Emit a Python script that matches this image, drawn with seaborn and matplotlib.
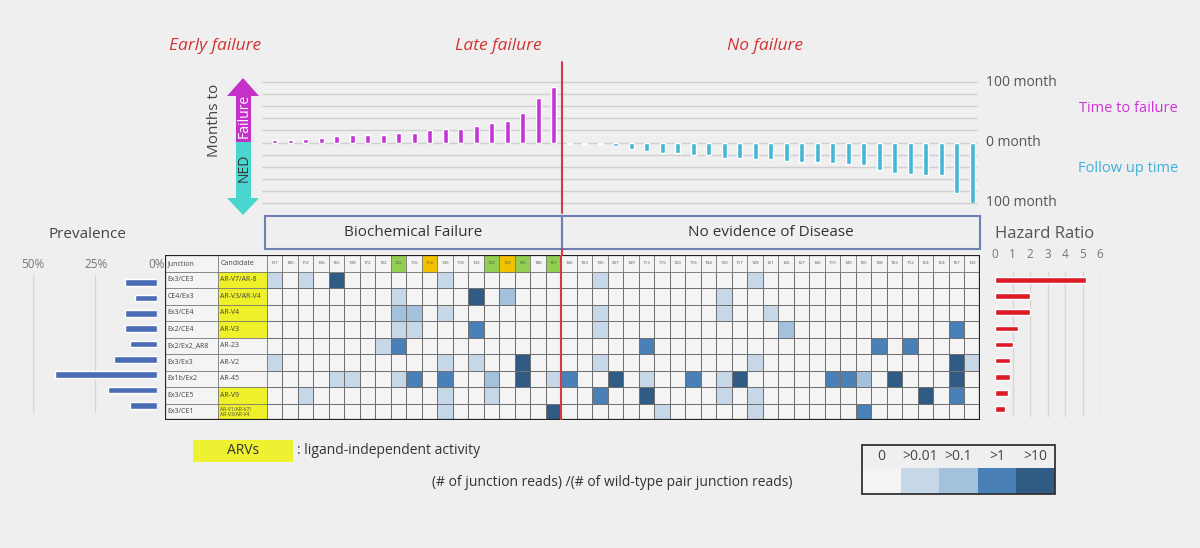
import numpy as np
import pandas as pd
import seaborn as sns
import matplotlib.pyplot as plt
from matplotlib.colors import ListedColormap
from matplotlib.patches import Rectangle, Polygon

sns.set_theme(style='white')
plt.rcParams['font.family'] = ['Open Sans', 'DejaVu Sans']

# months to failure (biochemical failure) and follow up (NED)
fail_months = [4, 4, 6, 8, 11, 12, 12, 12, 15, 15, 21, 23, 23, 27, 33, 36, 48, 73, 92]
ned_months = [3, 3, 3, 5, 10, 14, 17, 17, 20, 20, 26, 26, 28, 28, 30, 33, 33, 34, 36, 38,
              45, 51, 52, 54, 54, 83, 100]

fail_ids = ['137', '180', '112', '136', '165', '138', '172', '132', '122', '116', '114', '136',
            '118', '132', '125', '130', '156', '188', '161']
ned_ids = ['146', '103', '135', '207', '149', '113', '115', '120', '116', '104', '130', '117',
           '128', '121', '126', '127', '146', '119', '149', '155', '128', '103', '112', '124',
           '124', '167', '132']
# header highlight: g = green, y = yellow
fail_flags = ['', '', '', '', '', '', '', '', 'g', '', 'y', '', '', '', 'g', 'y', 'g', '', 'g']

junctions = ['Ex3/CE3', 'CE4/Ex3', 'Ex3/CE4', 'Ex2/CE4', 'Ex2/Ex2_AR8', 'Ex3/Ex3',
             'Ex1b/Ex2', 'Ex3/CE5', 'Ex3/CE1']
candidates = ['AR-V7/AR-8', 'AR-V3/AR-V4', 'AR-V4', 'AR-V3', 'AR-23', 'AR-V2', 'AR-45',
              'AR-V9', 'AR-V1/AR-V7/\nAR-V3/AR-V4']
is_arv = [True, True, True, True, False, False, False, True, True]

prevalence = [13.0, 8.7, 13.0, 13.0, 10.9, 17.4, 41.3, 19.6, 10.9]
hazard = [5.2, 2.0, 2.0, 1.33, 1.05, 0.86, 0.86, 0.76, 0.57]

# levels: 0 = 0, 1 = >0.01, 2 = >0.1, 3 = >1, 4 = >10
fail_levels = [
    [1, 0, 1, 0, 4, 0, 0, 0, 0, 0, 0, 1, 0, 0, 0, 0, 0, 0, 0],
    [0, 0, 0, 0, 0, 0, 0, 0, 1, 0, 0, 0, 0, 4, 0, 2, 0, 0, 0],
    [0, 0, 0, 0, 0, 0, 0, 0, 2, 2, 0, 1, 0, 0, 0, 0, 0, 0, 0],
    [0, 0, 0, 0, 0, 0, 0, 0, 1, 1, 0, 0, 0, 3, 0, 0, 0, 0, 0],
    [0, 0, 0, 0, 0, 0, 0, 1, 3, 0, 0, 0, 0, 0, 0, 0, 0, 0, 0],
    [1, 0, 0, 0, 0, 0, 0, 0, 0, 0, 0, 1, 0, 1, 0, 0, 4, 0, 0],
    [0, 0, 0, 0, 1, 1, 0, 0, 1, 3, 0, 3, 0, 0, 2, 0, 4, 0, 1],
    [0, 0, 1, 0, 0, 0, 0, 0, 0, 0, 0, 1, 0, 0, 1, 0, 0, 0, 0],
    [0, 0, 0, 0, 0, 0, 0, 0, 0, 0, 0, 1, 0, 0, 0, 0, 0, 0, 4],
]
ned_levels = [
    [0, 0, 1, 0, 0, 0, 0, 0, 0, 0, 0, 0, 1, 0, 0, 0, 0, 0, 0, 0, 0, 0, 0, 0, 0, 0, 0],
    [0, 0, 0, 0, 0, 0, 0, 0, 0, 0, 1, 0, 0, 0, 0, 0, 0, 0, 0, 0, 0, 0, 0, 0, 0, 0, 0],
    [0, 0, 1, 0, 0, 0, 0, 0, 0, 0, 1, 0, 0, 1, 0, 0, 0, 0, 0, 0, 0, 0, 0, 0, 0, 0, 0],
    [0, 0, 1, 0, 0, 0, 0, 0, 0, 0, 0, 0, 0, 0, 2, 0, 0, 0, 0, 0, 0, 0, 0, 0, 0, 3, 0],
    [0, 0, 0, 0, 0, 3, 0, 0, 0, 0, 0, 0, 0, 0, 0, 0, 0, 0, 0, 0, 3, 0, 3, 0, 0, 0, 0],
    [0, 0, 1, 0, 0, 0, 0, 0, 0, 0, 0, 0, 1, 0, 0, 0, 0, 0, 0, 0, 0, 0, 0, 0, 0, 4, 1],
    [3, 0, 0, 4, 0, 1, 0, 0, 3, 0, 1, 4, 0, 0, 0, 0, 0, 3, 3, 2, 0, 4, 0, 0, 0, 4, 0],
    [0, 0, 3, 0, 0, 4, 0, 0, 0, 0, 1, 0, 1, 0, 0, 0, 0, 0, 0, 0, 0, 0, 0, 4, 0, 3, 0],
    [0, 0, 0, 0, 0, 0, 1, 0, 0, 0, 0, 0, 1, 0, 0, 0, 0, 0, 0, 3, 0, 0, 0, 0, 0, 0, 0],
]
level_labels = ['0', '>0.01', '>0.1', '>1', '>10']
level_colors = ['#f4f4f4', '#c6d7e7', '#a3c0dc', '#4a80b8', '#2f5b85']

BG = '#efefef'
RED = '#d23a46'
GRID = '#707070'
W, H = 1200, 548

fig = plt.figure(figsize=(12, 5.48), dpi=100, facecolor=BG)


def px_axes(x0, y0, x1, y1):
    ax = fig.add_axes([x0 / W, 1 - y1 / H, (x1 - x0) / W, (y1 - y0) / H])
    ax.set_facecolor('none')
    return ax


n_fail, n_ned = len(fail_months), len(ned_months)
ncol = n_fail + n_ned

# ---- top bar chart ----
ax_top = px_axes(267, 82, 980, 203)
df_top = pd.DataFrame({
    'col': list(range(ncol)),
    'months': fail_months + [-m for m in ned_months],
    'group': ['fail'] * n_fail + ['ned'] * n_ned,
})
ax_top.hlines(np.arange(-100, 101, 20), -0.8, 45.3, color='#cfcfcf', lw=1, zorder=0, clip_on=False)
sns.barplot(data=df_top, x='col', y='months', hue='group', order=list(range(ncol)),
            palette={'fail': '#c535d6', 'ned': '#45b6d6'}, dodge=False, width=0.34,
            saturation=1, legend=False, ax=ax_top)
ax_top.set_xlim(-0.5, ncol - 0.5)
ax_top.set_ylim(-100, 100)
ax_top.axis('off')

# ---- table + heatmap ----
ax_tab = px_axes(165, 255, 980, 420)
mat = np.array([f + n for f, n in zip(fail_levels, ned_levels)])
sns.heatmap(mat, ax=ax_tab, cmap=ListedColormap(level_colors), vmin=-0.5, vmax=4.5,
            cbar=False, linewidths=0.5, linecolor=GRID,
            xticklabels=False, yticklabels=False)
xj, xc = -6.58, -3.16
ax_tab.set_xlim(xj, ncol)
ax_tab.set_ylim(len(junctions), -1)
ids = fail_ids + ned_ids
flags = fail_flags + [''] * n_ned
for i, (cid, fl) in enumerate(zip(ids, flags)):
    fc = {'g': '#92cf50', 'y': '#f2c100'}.get(fl, '#f4f4f4')
    ax_tab.add_patch(Rectangle((i, -1), 1, 1, fc=fc, ec=GRID, lw=0.5))
    ax_tab.text(i + 0.5, -0.5, cid, ha='center', va='center', fontsize=3.2, color='#555')
for x0, w, lab in [(xj, xc - xj, 'Junction'), (xc, -xc, 'Candidate')]:
    ax_tab.add_patch(Rectangle((x0, -1), w, 1, fc='#f4f4f4', ec=GRID, lw=0.5))
    ax_tab.text(x0 + 0.15, -0.5, lab, ha='left', va='center', fontsize=5, color='#444')
for r, (jn, cd, arv) in enumerate(zip(junctions, candidates, is_arv)):
    ax_tab.add_patch(Rectangle((xj, r), xc - xj, 1, fc='#f4f4f4', ec=GRID, lw=0.5))
    ax_tab.text(xj + 0.15, r + 0.5, jn, ha='left', va='center', fontsize=5, color='#444')
    ax_tab.add_patch(Rectangle((xc, r), -xc, 1, fc='#eef02a' if arv else '#f4f4f4',
                               ec=GRID, lw=0.5))
    ax_tab.text(xc + 0.15, r + 0.5, cd, ha='left', va='center',
                fontsize=3.6 if '\n' in cd else 5, color='#444', linespacing=1.0)
ax_tab.add_patch(Rectangle((xj, -1), ncol - xj, len(junctions) + 1, fc='none', ec='#222', lw=1.6))
ax_tab.axvline(n_fail, color=RED, lw=1.5)

# ---- prevalence ----
ax_prev = px_axes(33, 275, 157, 413)
df_prev = pd.DataFrame({'junction': junctions, 'prev': prevalence})
ax_prev.vlines([25, 50], -0.6, 8.9, color='#d6d6d6', lw=1, zorder=0)
sns.barplot(data=df_prev, y='junction', x='prev', orient='h', color='#4a6cb5',
            saturation=1, width=0.42, ax=ax_prev)
ax_prev.set_xlim(50, 0)
ax_prev.axis('off')

# ---- hazard ratio ----
ax_hr = px_axes(995, 272, 1100, 417)
df_hr = pd.DataFrame({'junction': junctions, 'hr': hazard})
ax_hr.vlines(np.arange(1, 7), -0.6, 8.6, color='#d6d6d6', lw=1, zorder=0)
sns.barplot(data=df_hr, y='junction', x='hr', orient='h', color='#dc1c26',
            saturation=1, width=0.35, ax=ax_hr)
ax_hr.set_xlim(0, 6)
ax_hr.axis('off')

# ---- overlay with annotations ----
ov = fig.add_axes([0, 0, 1, 1])
ov.set_xlim(0, W)
ov.set_ylim(H, 0)
ov.axis('off')
ov.patch.set_alpha(0)

for x, t in [(215, 'Early failure'), (498, 'Late failure'), (765, 'No failure')]:
    ov.text(x, 46, t, ha='center', va='center', fontsize=12.5, style='italic', color='#d23434')
ov.plot([562, 562], [62, 213], color=RED, lw=1.5)
ov.plot([562, 562], [249, 255], color=RED, lw=1.5)

for y, t in [(82, '100 month'), (143, '0 month'), (203, '100 month')]:
    ov.text(986, y, t, ha='left', va='center', fontsize=10, color='#555')
ov.text(1128, 108, 'Time to failure', ha='center', va='center', fontsize=10.5, color='#d033d8')
ov.text(1128, 169, 'Follow up time', ha='center', va='center', fontsize=10.5, color='#3fb1d8')

ov.add_patch(Polygon([(236, 142), (236, 96), (227, 96), (243, 78), (259, 96), (251, 96), (251, 142)],
                     fc='#c430c8', ec='none'))
ov.add_patch(Polygon([(236, 142), (236, 198), (227, 198), (243, 215), (259, 198), (251, 198), (251, 142)],
                     fc='#48d6cf', ec='none'))
ov.text(244, 116, 'Failure', rotation=90, ha='center', va='center', fontsize=10, color='white')
ov.text(244, 168, 'NED', rotation=90, ha='center', va='center', fontsize=10, color='#333')
ov.text(214, 120, 'Months to', rotation=90, ha='center', va='center', fontsize=11, color='#444')

ov.add_patch(Rectangle((265, 216), 297, 33, fc='none', ec='#6f7fb2', lw=1.5))
ov.add_patch(Rectangle((562, 216), 418, 33, fc='none', ec='#6f7fb2', lw=1.5))
ov.text(413, 233, 'Biochemical Failure', ha='center', va='center', fontsize=11, color='#333')
ov.text(771, 233, 'No evidence of Disease', ha='center', va='center', fontsize=11, color='#333')

ov.text(88, 235, 'Prevalence', ha='center', va='center', fontsize=11, color='#444')
for x, t in [(33, '50%'), (96, '25%'), (157, '0%')]:
    ov.text(x, 265, t, ha='center', va='center', fontsize=8.5, color='#777')
ov.text(1045, 234, 'Hazard Ratio', ha='center', va='center', fontsize=12, color='#555')
for i in range(7):
    ov.text(995 + i * 17.5, 254, str(i), ha='center', va='center', fontsize=8.5, color='#777')

ov.add_patch(Rectangle((193, 440), 100, 22, fc='#eef032', ec='none'))
ov.text(243, 451, 'ARVs', ha='center', va='center', fontsize=10, color='#333')
ov.text(297, 451, ': ligand-independent activity', ha='left', va='center', fontsize=10, color='#333')
ov.text(612, 483, '(# of junction reads) /(# of wild-type pair junction reads)',
        ha='center', va='center', fontsize=10, color='#333')

cw = (1055 - 862) / 5
for i, (lab, c) in enumerate(zip(level_labels, level_colors)):
    ov.add_patch(Rectangle((862 + i * cw, 468), cw, 26, fc=c, ec='none'))
    ov.text(862 + (i + 0.5) * cw, 456, lab, ha='center', va='center', fontsize=10, color='#444')
ov.add_patch(Rectangle((862, 445), 193, 49, fc='none', ec='#333', lw=1.3))

fig.savefig('out.png', dpi=100, facecolor=BG)
